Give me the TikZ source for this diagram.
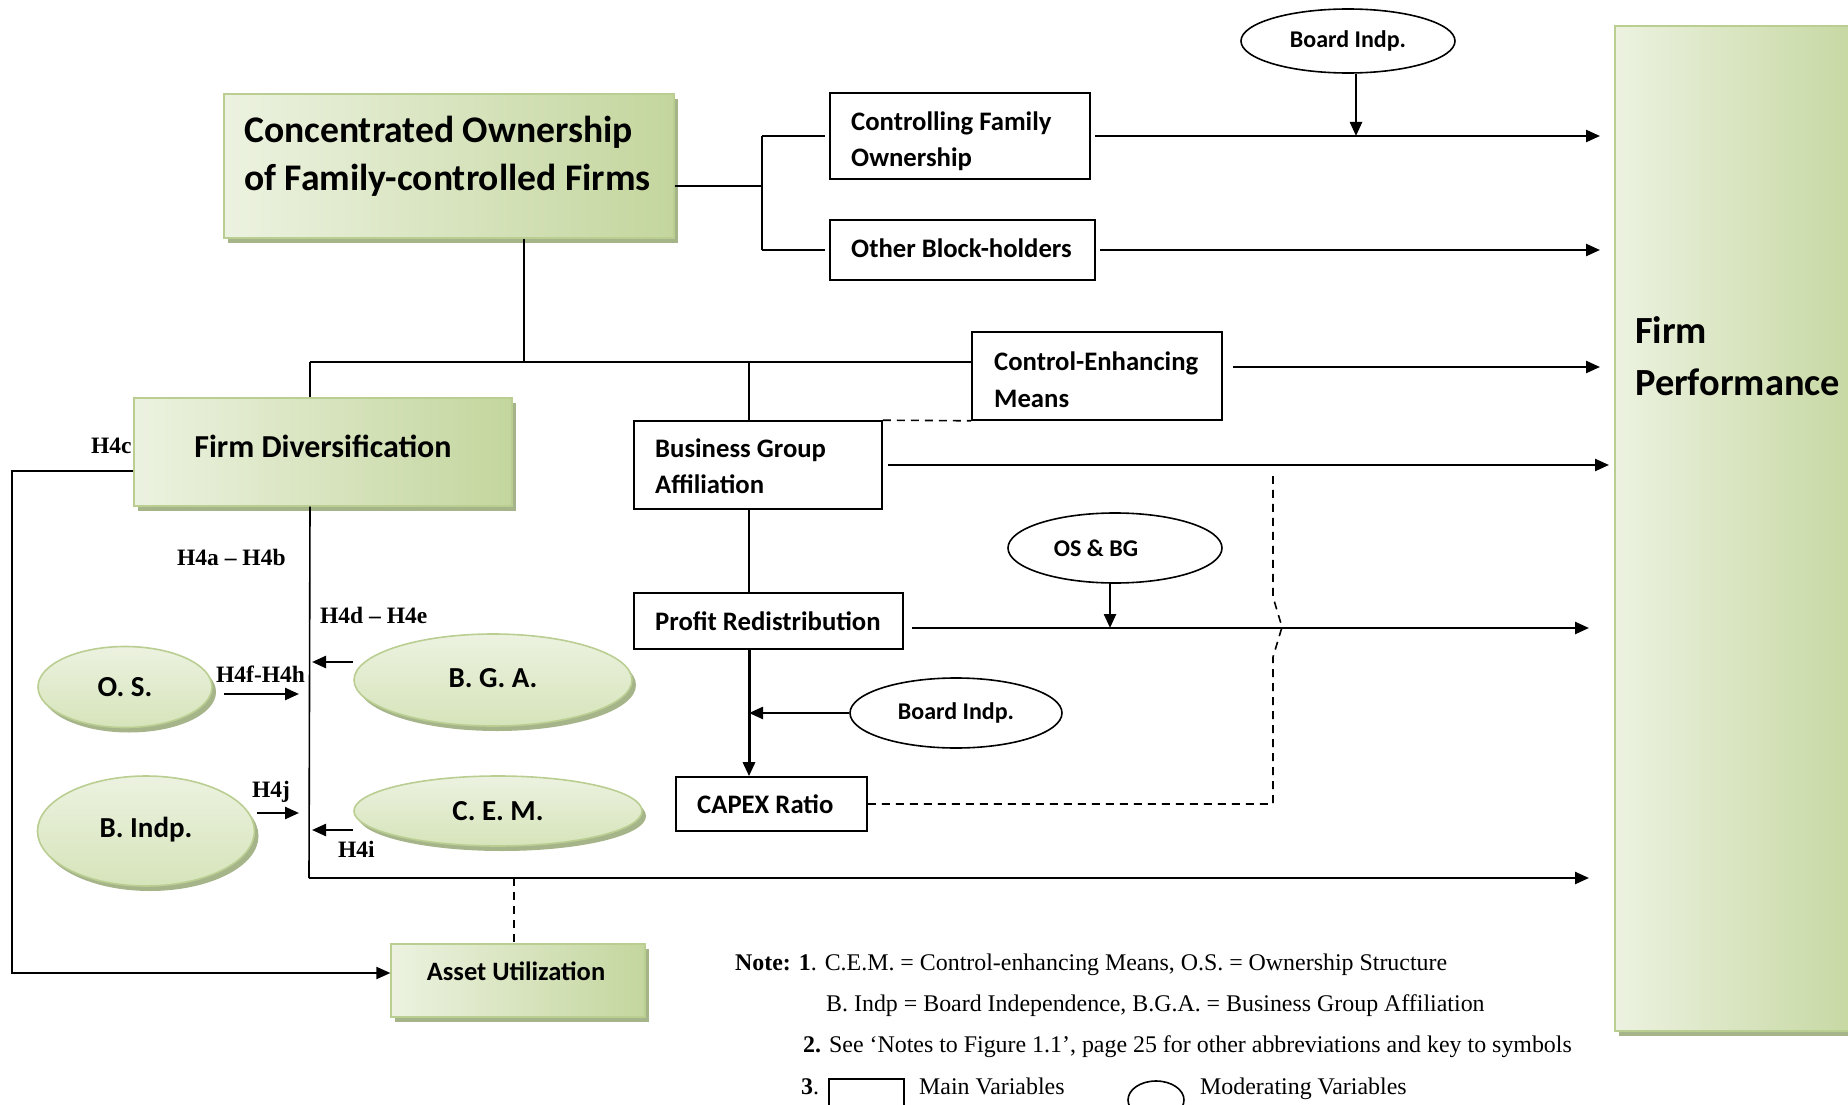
\documentclass[tikz,border=0pt]{standalone}
\usepackage{fontspec}
\setmainfont{Carlito}
\newfontfamily\tnr{Liberation Serif}
\usetikzlibrary{arrows.meta,shapes.geometric,shadows}
\definecolor{glight}{RGB}{236,242,224}
\definecolor{gmid}{RGB}{214,228,186}
\definecolor{gdark}{RGB}{196,214,158}
\definecolor{gedge}{RGB}{186,206,146}
\definecolor{gshadow}{RGB}{166,180,138}
\tikzset{
 gshad/.style={drop shadow={shadow xshift=4pt,shadow yshift=-5pt,fill=gshadow,opacity=1}},
 gbox/.style={rectangle,draw=gedge,line width=1.2pt,left color=glight,right color=gdark,inner sep=0pt,gshad},
 gell/.style={ellipse,draw=gedge,line width=1.6pt,top color=glight,bottom color=gmid,inner sep=0pt,gshad,font=\bfseries\fontsize{29}{30}\selectfont},
 wbox/.style={rectangle,draw=black,line width=1.6pt,fill=white,inner sep=0pt},
 well/.style={ellipse,draw=black,line width=1.6pt,fill=white,inner sep=0pt,font=\bfseries\fontsize{24}{26}\selectfont},
 ln/.style={line width=1.6pt},
 arr/.style={line width=2.4pt,-{Triangle[length=14pt,width=12pt]}},
 dsh/.style={line width=1.6pt,dash pattern=on 8pt off 6pt},
 btxt/.style={anchor=base west,inner sep=0pt,font=\bfseries\fontsize{26.7}{30}\selectfont},
 bigtxt/.style={anchor=base west,inner sep=0pt,font=\bfseries\fontsize{37.6}{40}\selectfont},
 hl/.style={anchor=base west,inner sep=0pt,font=\tnr\bfseries\fontsize{23.5}{26}\selectfont},
 note/.style={anchor=base west,inner sep=0pt,font=\tnr\fontsize{23.9}{26}\selectfont},
}
\begin{document}
\begin{tikzpicture}[x=1pt,y=-1pt]
\useasboundingbox (0,0) rectangle (1848,1105);
\clip (0,0) rectangle (1848,1105);
% green main variable boxes
\node[gbox,minimum width=450pt,minimum height=144pt] (main) at (449,166) {};
\node[bigtxt] (maint1) at (244,143) {Concentrated Ownership};
\node[bigtxt] (maint2) at (244,190) {of Family-controlled Firms};
\node[gbox,minimum width=378pt,minimum height=108pt] (fd) at (323,452) {};
\node[anchor=base,inner sep=0pt,font=\bfseries\fontsize{32}{34}\selectfont] (fdt) at (323,457) {Firm Diversification};
\node[gbox,minimum width=254pt,minimum height=73pt] (asset) at (518,980.5) {};
\node[anchor=base,inner sep=0pt,font=\bfseries\fontsize{26.5}{30}\selectfont] (assett) at (516,980) {Asset Utilization};
\node[gbox,minimum width=255pt,minimum height=1005pt] (fp) at (1742.5,528.5) {};
\node[bigtxt,font=\bfseries\fontsize{38.4}{40}\selectfont] (fpt1) at (1635,343) {Firm};
\node[bigtxt,font=\bfseries\fontsize{38.4}{40}\selectfont] (fpt2) at (1635,395) {Performance};
% white boxes
\node[wbox,minimum width=260pt,minimum height=86pt] (cfo) at (960,136) {};
\node[btxt] (cfot1) at (851,131) {Controlling Family};
\node[btxt] (cfot2) at (851,167) {Ownership};
\node[wbox,minimum width=265pt,minimum height=60pt] (ob) at (962.5,250) {};
\node[btxt] (obt) at (851,257) {Other Block-holders};
\node[wbox,minimum width=250pt,minimum height=88pt] (cem) at (1097,376) {};
\node[btxt] (cemt1) at (994,370) {Control-Enhancing};
\node[btxt] (cemt2) at (994,407) {Means};
\node[wbox,minimum width=248pt,minimum height=88pt] (bga) at (758,465) {};
\node[btxt] (bgat1) at (655,457) {Business Group};
\node[btxt] (bgat2) at (655,493) {Affiliation};
\node[wbox,minimum width=269pt,minimum height=56pt] (pr) at (768.5,621) {};
\node[btxt] (prt) at (655,630) {Profit Redistribution};
\node[wbox,minimum width=191pt,minimum height=54pt] (capex) at (771.5,804) {};
\node[btxt] (capext) at (697,813) {CAPEX Ratio};
% moderating ellipses
\node[well,minimum width=214pt,minimum height=64pt] (btop) at (1348,41) {Board Indp.};
\node[well,minimum width=214pt,minimum height=70pt] (osbg) at (1115,548) {\hspace*{-38pt}OS \& BG};
\node[well,minimum width=212pt,minimum height=70pt] (bmid) at (956,713) {Board Indp.};
% green ellipses
\node[gell,minimum width=174pt,minimum height=81pt] (os) at (125,687) {O. S.};
\node[gell,minimum width=278pt,minimum height=92pt] (bgaell) at (493,680) {\raisebox{5pt}{B. G. A.}};
\node[gell,minimum width=217pt,minimum height=110pt] (bi) at (146,831) {\raisebox{7pt}{B. Indp.}};
\node[gell,minimum width=288pt,minimum height=70pt] (cemell) at (498,811) {\raisebox{-3pt}{C. E. M.}};
% coordinates
\coordinate (j1) at (762,186);
\coordinate (j2) at (524,362);
\coordinate (j3) at (310,362);
\coordinate (j4) at (749,362);
\coordinate (j6) at (309,878);
\coordinate (tipa) at (1600,0);
\coordinate (tipb) at (1609,0);
\coordinate (tipc) at (1589,0);
\coordinate (vin) at (299,0);
\coordinate (jd) at (1273,0);
% ownership branches
\draw[ln] (main.east |- j1) -- (j1);
\draw[ln] (j1 |- cfo.west) -- (j1 |- ob.west);
\draw[ln] (j1 |- cfo.west) -- ([xshift=-4pt]cfo.west);
\draw[ln] (j1 |- ob.west) -- ([xshift=-4pt]ob.west);
\draw[arr] ([xshift=4pt]cfo.east) -- (tipa |- cfo.east);
\draw[arr] ([xshift=8pt]btop.south) -- ([xshift=8pt]btop.south |- cfo.east);
\draw[arr] ([xshift=4pt]ob.east) -- (tipa |- ob.east);
% main vertical and horizontal
\draw[ln] (j2 |- main.south) -- (j2);
\draw[ln] (j3) -- (cem.west |- j2);
\draw[ln] (j3) -- (j3 |- fd.north);
\draw[ln] (j4) -- (j4 |- bga.north);
\draw[dsh] (bga.north east) -- (cem.south west);
\coordinate (cema) at ([shift={(10pt,9pt)}]cem.east);
\draw[arr] (cema) -- (tipa |- cema);
\draw[arr] ([xshift=5pt]bga.east) -- (tipb |- bga.east);
\draw[ln] (j4 |- bga.south) -- (j4 |- pr.north);
\coordinate (pra) at ([shift={(8pt,-7pt)}]pr.east);
\draw[arr] (pra) -- (tipc |- pra);
\draw[arr] ([xshift=-5pt]osbg.south) -- ([xshift=-5pt]osbg.south |- pra);
\draw[line width=3pt,-{Triangle[length=14pt,width=12pt]}] (j4 |- pr.south) -- (j4 |- capex.north);
\draw[arr] (bmid.west) -- (j4 |- bmid.west);
\draw[dsh] (capex.east) -- (jd |- capex.east) -- (1273,657) -- (1282,627) -- (1273,597) -- (1273,476);
% firm diversification
\draw[ln] (j3 |- fd.south) -- (j6);
\draw[arr] (j6) -- (tipc |- j6);
\coordinate (a1) at ([yshift=18pt]bgaell.west);
\draw[arr] (a1) -- ([xshift=2pt]j3 |- a1);
\coordinate (a4) at ([yshift=-19pt]cemell.west);
\draw[arr] (a4) -- ([xshift=2pt]j3 |- a4);
\coordinate (a2) at ([shift={(11pt,-7pt)}]os.east);
\draw[arr] (a2) -- (vin |- a2);
\coordinate (a3) at ([shift={(2pt,18pt)}]bi.east);
\draw[arr] (a3) -- (vin |- a3);
\draw[dsh] ([xshift=-4pt]asset.north |- j6) -- ([xshift=-4pt]asset.north);
\draw[line width=2pt,-{Triangle[length=14pt,width=12pt]}] ([yshift=-19pt]fd.west) -- (12,471) -- (12,973) -- ([yshift=7.5pt]asset.west);
% hypothesis labels
\node[hl] (h4c) at (91,453) {H4c};
\node[hl] (h4ab) at (177,565) {H4a – H4b};
\node[hl] (h4de) at (320,623) {H4d – H4e};
\node[hl] (h4fh) at (216,682) {H4f-H4h};
\node[hl] (h4j) at (252,797) {H4j};
\node[hl] (h4i) at (338,857) {H4i};
% notes
\node[note] (n1) at (735,970) {\textbf{Note: 1}. C.E.M. = Control-enhancing Means, O.S. = Ownership Structure};
\node[note] (n2) at (826,1011) {B. Indp = Board Independence, B.G.A. = Business Group Affiliation};
\node[note] (n3) at (803,1052) {\textbf{2.} See ‘Notes to Figure 1.1’, page 25 for other abbreviations and key to symbols};
\node[note] (n4) at (801,1094) {\textbf{3}.};
\node[rectangle,draw=black,line width=1.6pt,minimum width=75pt,minimum height=50pt,inner sep=0pt] (keybox) at (866.5,1104) {};
\node[note] (n5) at (919,1094) {Main Variables};
\node[ellipse,draw=black,line width=1.6pt,minimum width=56pt,minimum height=38pt,inner sep=0pt] (keyell) at (1156,1100) {};
\node[note] (n6) at (1200,1094) {Moderating Variables};
\end{tikzpicture}
\end{document}
